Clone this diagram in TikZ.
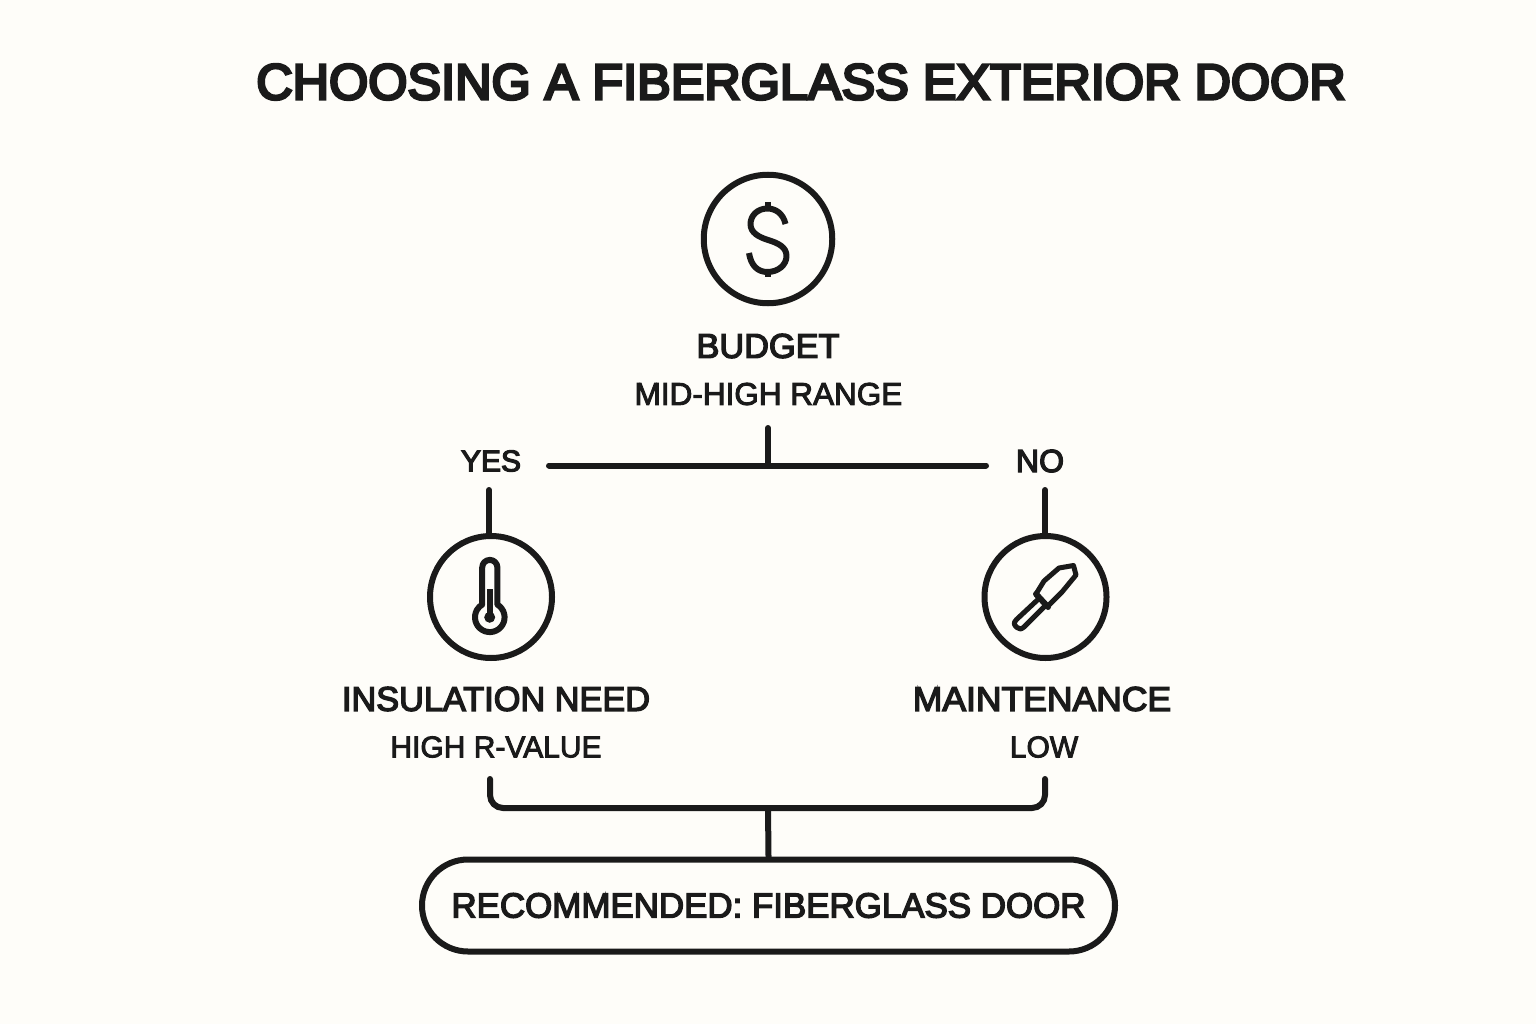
\documentclass[tikz,border=0pt]{standalone}
\usepackage{fontspec}
\setmainfont{Liberation Sans}[FakeBold=3]
\newfontfamily\semibf{Liberation Sans}[FakeBold=4]
\newfontfamily\ttlbf{Liberation Sans}[FakeBold=5.5]
\definecolor{ink}{HTML}{1A1A1A}
\definecolor{paper}{HTML}{FEFDF9}
\newcommand{\fs}[1]{\fontsize{#1}{#1}\selectfont}
\begin{document}
\begin{tikzpicture}[x=1pt,y=-1pt,
  conn/.style={draw=ink,line width=6pt,line cap=round},
  ring/.style={circle,draw=ink,line width=6pt,inner sep=0pt,fill=paper},
  icon/.style={draw=ink,line width=6pt,line join=round,line cap=round},
  ttl/.style={text=ink,inner sep=0pt,anchor=center,font=\ttlbf\fs{50.4}},
  head/.style={text=ink,inner sep=0pt,anchor=center,font=\semibf\fs{34.3}},
  sub/.style={text=ink,inner sep=0pt,anchor=center,font=\fs{30}},
  pill/.style={rounded corners=46pt,draw=ink,line width=6pt,fill=paper,minimum width=693pt,minimum height=92pt,inner sep=0pt,text=ink,font=\semibf\fs{34.9}}]
\fill[paper] (0,0) rectangle (1536,1024);
\useasboundingbox (0,0) rectangle (1536,1024);
\node[ttl] (title) at (801,82) {CHOOSING A FIBERGLASS EXTERIOR DOOR};
\node[ring,minimum size=128.5pt] (budget) at (768,239) {};
\node[head] (budgetT) at (768,346) {BUDGET};
\node[sub] (budgetS) at (768.5,394) {\fs{31.5}MID-HIGH RANGE};
\node[head] (yes) at (491,461) {\fs{30}YES};
\node[head] (no) at (1040,461) {\fs{32}NO};
\node[ring,minimum size=122pt] (ins) at (491,597) {};
\node[ring,minimum size=122pt] (mnt) at (1045.5,597) {};
\node[head] (insT) at (496,699) {INSULATION NEED};
\node[sub] (insS) at (496,747) {HIGH R-VALUE};
\node[head] (mntT) at (1042,699) {\scalebox{1.035}[1]{MAINTENANCE}};
\node[sub] (mntS) at (1044,747) {LOW};
\node[pill] (rec) at (768.5,905.5) {RECOMMENDED: FIBERGLASS DOOR};
% connectors
\coordinate (bstub) at (768,428);
\coordinate (bjoin) at (768,465.5);
\coordinate (hl) at (549,465.5);
\coordinate (hr) at (986,465.5);
\coordinate (ytop) at (489,490);
\coordinate (ntop) at (1045,490);
\coordinate (bl) at (490,779);
\coordinate (br) at (1045,779);
\coordinate (bm) at (768,808);
\draw[conn] (bstub) -- (bjoin);
\draw[conn] (hl) -- (hr);
\draw[conn] (ytop) -- (ytop |- ins.north);
\draw[conn] (ntop) -- (ntop |- mnt.north);
\draw[conn,rounded corners=13pt] (bl) -- (bl |- bm) -- (br |- bm) -- (br);
\draw[conn] (bm) -- (rec.north);
% dollar
\draw[icon,line cap=butt] (785.5,224)
  .. controls (783,213) and (775,208.5) .. (767.5,208.5)
  .. controls (757,208.5) and (750.5,216) .. (750.5,224)
  .. controls (750.5,233) and (759,237) .. (768,240)
  .. controls (778,243) and (786.5,247) .. (786.5,256)
  .. controls (786.5,265) and (778,272) .. (767.5,272)
  .. controls (758,272) and (751,266) .. (749,253);
\draw[icon,line cap=butt] (767.7,202) -- (767.7,209);
\draw[icon,line cap=butt] (767.7,271) -- (767.7,277);
% thermometer
\draw[icon] (482.2,604.6) -- (482.2,567.5) arc[start angle=180,end angle=360,radius=7.6] -- (497.4,604.6)
  arc[start angle=-59,end angle=239,radius=14.8];
\draw[icon,line cap=butt] (489.7,589) -- (489.7,617);
\fill[ink] (489.7,617.3) circle (5.5);
% tool
\draw[icon,line width=5pt] (1059,568) -- (1073.5,565.5) -- (1076,575) -- (1062,592) -- (1047.5,606.5) -- (1036,594) -- (1044,581) -- cycle;
\draw[icon] (1036,594) -- (1048,607);
\draw[icon,line width=5pt] (1039,598.5) -- (1016.5,619.5) .. controls (1013,623) and (1014,625) .. (1017,627.5) .. controls (1019.5,629.5) and (1021,629.5) .. (1024,627) -- (1045,606);
\end{tikzpicture}
\end{document}
